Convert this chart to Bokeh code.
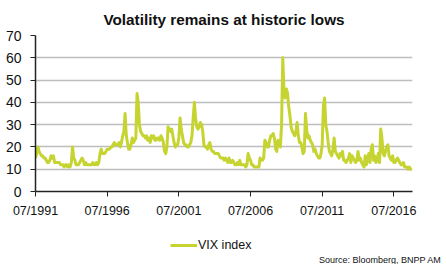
from bokeh.plotting import figure
from bokeh.layouts import column
from bokeh.models import (Legend, LegendItem, Title, FixedTicker, Range1d,
                          ColumnDataSource)
from bokeh.embed import file_html
from bokeh.resources import INLINE

# Monthly VIX readings, Jul 1991 .. Oct 2017
start_year, start_month = 1991, 7
vix = [
    # 1991 Jul-Dec
    15, 17, 20, 18, 17, 16,
    # 1992
    16, 15, 15, 14, 13, 13, 14, 16, 15, 16, 13, 13,
    # 1993
    13, 13, 13, 12, 12, 12, 11, 12, 12, 11, 12, 11,
    # 1994
    13, 20, 15, 14, 12, 12, 12, 13, 14, 15, 14, 12,
    # 1995
    13, 12, 12, 12, 12, 12, 13, 12, 12, 13, 12, 13,
    # 1996
    17, 19, 17, 17, 17, 18, 19, 19, 19, 20, 20, 21,
    # 1997
    22, 21, 21, 21, 22, 20, 22, 25, 27, 35, 25, 22,
    # 1998
    19, 19, 21, 24, 22, 23, 24, 44, 40, 30, 27, 26,
    # 1999
    25, 25, 24, 25, 23, 24, 22, 25, 24, 25, 23, 23,
    # 2000
    24, 24, 23, 25, 24, 22, 18, 17, 20, 29, 28, 27,
    # 2001
    28, 25, 22, 20, 21, 21, 24, 33, 28, 25, 22, 21,
    # 2002
    21, 20, 20, 21, 22, 25, 33, 40, 33, 29, 28, 29,
    # 2003
    31, 30, 27, 21, 20, 20, 19, 21, 22, 19, 18, 18,
    # 2004
    17, 17, 17, 17, 16, 15, 15, 15, 14, 15, 14, 13,
    # 2005
    15, 13, 13, 14, 13, 12, 12, 13, 12, 14, 12, 12,
    # 2006
    12, 12, 11, 12, 17, 15, 14, 12, 12, 11, 11, 11,
    # 2007
    11, 11, 15, 14, 14, 15, 23, 22, 20, 20, 23, 25,
    # 2008
    25, 26, 24, 19, 18, 23, 22, 20, 30, 60, 45, 42,
    # 2009
    46, 44, 38, 34, 29, 27, 26, 25, 27, 31, 25, 22,
    # 2010
    22, 20, 17, 18, 35, 28, 24, 25, 23, 22, 21, 18,
    # 2011
    19, 17, 16, 15, 15, 17, 21, 38, 42, 30, 27, 22,
    # 2012
    18, 17, 16, 19, 24, 18, 17, 16, 15, 17, 16, 18,
    # 2013
    14, 14, 13, 14, 15, 17, 13, 16, 15, 14, 13, 14,
    # 2014
    18, 14, 15, 13, 12, 11, 16, 12, 15, 17, 13, 19,
    # 2015
    21, 14, 16, 13, 14, 17, 13, 28, 24, 17, 16, 18,
    # 2016
    20, 21, 16, 15, 14, 16, 13, 13, 14, 15, 14, 13,
    # 2017 Jan-Oct
    12, 12, 13, 11, 11, 11, 10, 11, 10, 10,
]

tick_years = [1991, 1996, 2001, 2006, 2011, 2016]
tick_labels = ["07/1991", "07/1996", "07/2001", "07/2006", "07/2011", "07/2016"]
y_ticks = [0, 10, 20, 30, 40, 50, 60, 70]
series_name = "VIX index"
title_text = "Volatility remains at historic lows"
source_text = "Source: Bloomberg, BNPP AM"

# decimal-year position of each month
x = [start_year + (start_month - 1 + i) / 12 for i in range(len(vix))]
src = ColumnDataSource(dict(x=x, y=vix))

FONT = "Liberation Sans"
LINE_COLOR = "#c5d430"
TEXT_COLOR = "#111111"
X_END = 2017.8

# ---- main chart -------------------------------------------------------
p = figure(width=447, height=224, output_backend="svg", toolbar_location=None,
           x_range=Range1d(start_year + (start_month - 1) / 12, X_END),
           y_range=Range1d(0, 70),
           min_border_left=35, min_border_right=35, min_border_top=35,
           min_border_bottom=33)
p.title = None
p.outline_line_color = None
p.background_fill_color = "white"
p.border_fill_color = "white"

r = p.line("x", "y", source=src, line_color=LINE_COLOR, line_width=3,
           line_join="round")

tick_pos = [yr + 0.5 for yr in tick_years]
p.xaxis.ticker = FixedTicker(ticks=tick_pos)
p.xaxis.major_label_overrides = {t: l for t, l in zip(tick_pos, tick_labels)}
p.xaxis.minor_tick_line_color = None
p.xaxis.major_tick_in = 0
p.xaxis.major_tick_out = 5
p.xaxis.axis_line_color = "#222222"
p.xaxis.axis_line_width = 1.5
p.xaxis.major_tick_line_color = "#222222"
p.xaxis.major_label_text_font = FONT
p.xaxis.major_label_text_font_size = "12.5px"
p.xaxis.major_label_text_color = TEXT_COLOR
p.xaxis.major_label_standoff = 7

p.yaxis.ticker = FixedTicker(ticks=y_ticks)
p.yaxis.minor_tick_line_color = None
p.yaxis.major_tick_in = 0
p.yaxis.major_tick_out = 5
p.yaxis.axis_line_color = "#222222"
p.yaxis.axis_line_width = 1.5
p.yaxis.major_tick_line_color = "#222222"
p.yaxis.major_label_text_font = FONT
p.yaxis.major_label_text_font_size = "14px"
p.yaxis.major_label_text_color = TEXT_COLOR
p.yaxis.major_label_standoff = 9

p.xgrid.grid_line_color = None
p.ygrid.grid_line_color = "#bdbdbd"
p.ygrid.grid_line_width = 1.5

p.add_layout(Title(text=title_text, align="center", text_font=FONT,
                   text_font_style="bold", text_font_size="15.3px",
                   text_color=TEXT_COLOR, standoff=14.5), "above")

# ---- legend + source strip ------------------------------------------
# frame of this strip is aligned with the main frame (x 35..412 px),
# so its ranges are set in pixel units of that frame
p2 = figure(width=447, height=40, output_backend="svg", toolbar_location=None,
            x_range=Range1d(35, 412), y_range=Range1d(0, 40),
            min_border_left=35, min_border_right=35, min_border_top=0,
            min_border_bottom=0, x_axis_type=None, y_axis_type=None)
p2.outline_line_color = None
p2.grid.visible = False
p2.title = None

# same series, lies outside this strip's ranges; it only feeds the legend key
key = p2.line("x", "y", source=src, line_color=LINE_COLOR, line_width=3)
legend = Legend(items=[LegendItem(label=series_name, renderers=[key])],
                orientation="horizontal", location=(135, 0),
                border_line_color=None, background_fill_alpha=0,
                label_text_font=FONT, label_text_font_size="12.5px",
                label_text_color=TEXT_COLOR, glyph_width=27, glyph_height=14,
                label_height=14, label_standoff=1, padding=0, margin=0,
                spacing=0)
p2.add_layout(legend)

p2.add_layout(Title(text=source_text, align="right", offset=-29, standoff=0,
                    text_font=FONT, text_font_style="normal",
                    text_font_size="9px", text_color=TEXT_COLOR), "below")

open("out.html", "w").write(file_html(column(p, p2, spacing=0), INLINE))
